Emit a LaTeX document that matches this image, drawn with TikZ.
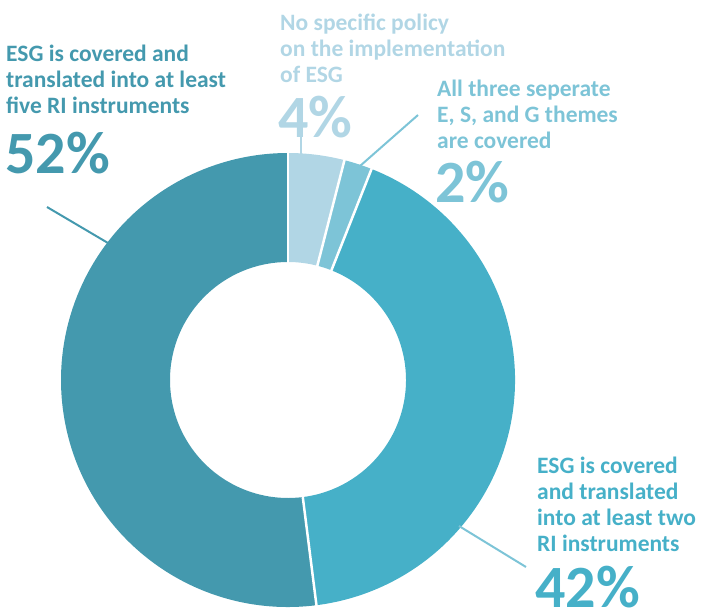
\documentclass[tikz,border=0pt]{standalone}
\usepackage{fontspec}
\setmainfont{Carlito}
\usetikzlibrary{calc}
\definecolor{cA}{HTML}{4499AE}
\definecolor{cB}{HTML}{46B0C8}
\definecolor{cC}{HTML}{7DC4D7}
\definecolor{cD}{HTML}{B1D6E5}
\tikzset{
  lbl/.style={anchor=base west, inner sep=0pt, align=left, font=\fontsize{23.5}{26}\selectfont\bfseries},
  pct/.style={anchor=base west, inner sep=0pt, font=\fontsize{60}{60}\selectfont\bfseries},
  leader/.style={line width=2pt}
}
\begin{document}
\begin{tikzpicture}[x=1pt,y=1pt]
\useasboundingbox (0,0) rectangle (701,-611);
\coordinate (c) at (288,-380);
\def\Ro{227}\def\Ri{118}
% segments
\fill[cD] ($(c)+(90:\Ro)$) arc[start angle=90,end angle=75.6,radius=\Ro] -- ($(c)+(75.6:\Ri)$) arc[start angle=75.6,end angle=90,radius=\Ri] -- cycle;
\fill[cC] ($(c)+(75.6:\Ro)$) arc[start angle=75.6,end angle=68.4,radius=\Ro] -- ($(c)+(68.4:\Ri)$) arc[start angle=68.4,end angle=75.6,radius=\Ri] -- cycle;
\fill[cB] ($(c)+(68.4:\Ro)$) arc[start angle=68.4,end angle=-82.8,radius=\Ro] -- ($(c)+(-82.8:\Ri)$) arc[start angle=-82.8,end angle=68.4,radius=\Ri] -- cycle;
\fill[cA] ($(c)+(-82.8:\Ro)$) arc[start angle=-82.8,end angle=-270,radius=\Ro] -- ($(c)+(-270:\Ri)$) arc[start angle=-270,end angle=-82.8,radius=\Ri] -- cycle;
% separators
\foreach \a in {90,75.6,68.4,-82.8}{
  \draw[white,line width=2.5pt] ($(c)+(\a:\Ri-2)$) -- ($(c)+(\a:\Ro+2)$);
}
% labels (anchored at the baseline of the last line)
\node[lbl,text=cA] (t52) at (6,-113) {ESG is covered and\\translated into at least\\five RI instruments};
\node[pct,text=cA] (p52) at (5,-173) {52\%};
\node[lbl,text=cD] (t4) at (280,-82) {No specific policy\\on the implementation\\of ESG};
\node[pct,text=cD] (p4) at (278,-137) {4\%};
\node[lbl,text=cC] (t2) at (437,-148) {All three seperate\\E, S, and G themes\\are covered};
\node[pct,text=cC] (p2) at (435,-202) {2\%};
\node[lbl,text=cB] (t42) at (537,-551) {ESG is covered\\and translated\\into at least two\\RI instruments};
\node[pct,text=cB] (p42) at (535,-607) {42\%};
% leaders
\coordinate (l52a) at (47,-207); \coordinate (l52b) at (108,-243);
\coordinate (l4a) at (301,-133); \coordinate (l4b) at (301,-154);
\coordinate (l2a) at (418,-115); \coordinate (l2b) at (360,-166);
\coordinate (l42a) at (459,-526); \coordinate (l42b) at (526,-567);
\draw[leader,cA] (l52a) -- (l52b);
\draw[leader,cD] (l4a) -- (l4b);
\draw[leader,cC] (l2a) -- (l2b);
\draw[leader,cC] (l42a) -- (l42b);
\end{tikzpicture}
\end{document}
